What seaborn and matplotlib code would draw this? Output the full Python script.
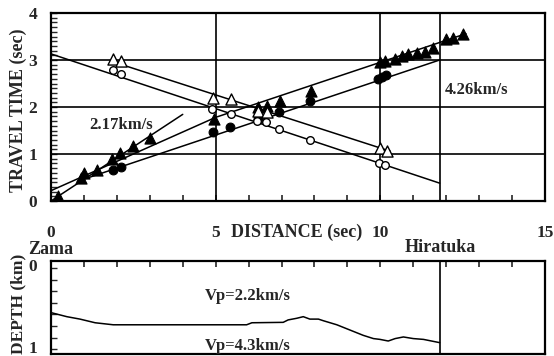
import numpy as np
import pandas as pd
import matplotlib
matplotlib.use("Agg")
import matplotlib.pyplot as plt
import matplotlib.transforms as mtransforms
from matplotlib.ticker import MultipleLocator, FixedLocator
import seaborn as sns

# ---- travel-time observations (distance km, time s) ----
fwd_tri_x = [0.2, 0.9, 1.0, 1.4, 1.85, 2.1, 2.5, 3.0, 4.95, 6.3, 6.55, 6.95, 7.9,
             10.0, 10.15, 10.45, 10.65, 10.85, 11.1, 11.35, 11.6, 12.0, 12.2, 12.5]
fwd_tri_y = [0.1, 0.48, 0.6, 0.65, 0.9, 1.02, 1.18, 1.35, 1.75, 2.0, 2.02, 2.12, 2.35,
             2.95, 2.97, 3.02, 3.08, 3.12, 3.15, 3.17, 3.25, 3.45, 3.46, 3.56]

fwd_cir_x = [1.87, 2.12, 4.93, 5.45, 6.3, 6.92, 7.87, 9.92, 10.05, 10.17]
fwd_cir_y = [0.66, 0.73, 1.47, 1.57, 1.75, 1.9, 2.13, 2.6, 2.64, 2.68]

rev_tri_x = [1.87, 2.12, 4.93, 5.47, 6.3, 6.57, 9.98, 10.2]
rev_tri_y = [3.02, 2.97, 2.2, 2.18, 1.92, 1.9, 1.12, 1.06]

rev_cir_x = [1.87, 2.12, 4.9, 5.46, 6.27, 6.53, 6.92, 7.87, 9.95, 10.15]
rev_cir_y = [2.78, 2.7, 1.96, 1.85, 1.7, 1.68, 1.53, 1.29, 0.81, 0.77]

# ---- fitted travel-time lines ----
v_direct = 2.17          # km/s
v_refract = 4.26         # km/s
direct_x = [0.0, 4.0]
refr_cir_x = [0.8, 11.8]
refr_cir_t0 = 0.23
upper_a_x = [0.0, 5.0]
upper_a_y = [0.22, 1.78]
upper_b_x = [5.0, 12.6]
upper_b_y = [1.78, 3.56]
rev_cir_line_x = [0.0, 11.8]
rev_cir_line_y = [3.13, 0.38]
rev_tri_line_x = [1.8, 10.3]
rev_tri_line_y = [2.98, 1.06]

hiratuka_x = 11.8

# ---- depth of the refractor (km) ----
prof_x = [0.0, 0.48, 0.88, 1.34, 1.89, 5.94, 6.1, 7.05, 7.2, 7.46, 7.66, 7.86, 8.12,
          8.27, 8.68, 9.08, 9.48, 9.79, 9.99, 10.24, 10.45, 10.7, 11.0, 11.31, 11.8]
prof_d = [0.55, 0.6, 0.63, 0.675, 0.7, 0.7, 0.675, 0.67, 0.64, 0.62, 0.6, 0.63, 0.63,
          0.65, 0.7, 0.765, 0.83, 0.87, 0.88, 0.9, 0.87, 0.85, 0.87, 0.88, 0.92]

sns.set_theme(style="white")
plt.rcParams['font.family'] = ['Liberation Serif', 'DejaVu Serif']
plt.rcParams['font.weight'] = 'bold'
plt.rcParams['axes.linewidth'] = 1.5

W, H = 554, 356
fig = plt.figure(figsize=(W / 100, H / 100), dpi=100)
L, R = 51 / W, 545 / W
ax = fig.add_axes([L, 1 - 201 / H, R - L, (201 - 13) / H])
ax2 = fig.add_axes([L, 1 - 354 / H, R - L, (354 - 261) / H])

fs = 12          # annotations
fs_tick = 12.5
fs_lab = 13
lw = 1.1

# grid lines
for yv in [1, 2, 3]:
    ax.axhline(yv, color='black', lw=1.2, zorder=1)
for xv in [5, 10]:
    ax.axvline(xv, color='black', lw=1.2, zorder=1)
ax.axvline(hiratuka_x, color='black', lw=1.2, zorder=1)
ax2.axvline(hiratuka_x, color='black', lw=1.2, zorder=1)

def seg(a, xs, ys):
    sns.lineplot(x=xs, y=ys, ax=a, color='black', linewidth=lw, sort=False,
                 estimator=None, zorder=2)

seg(ax, direct_x, [x / v_direct for x in direct_x])
seg(ax, refr_cir_x, [refr_cir_t0 + x / v_refract for x in refr_cir_x])
seg(ax, upper_a_x, upper_a_y)
seg(ax, upper_b_x, upper_b_y)
seg(ax, rev_cir_line_x, rev_cir_line_y)
seg(ax, rev_tri_line_x, rev_tri_line_y)

sns.scatterplot(x=fwd_tri_x, y=fwd_tri_y, ax=ax, marker='^', s=64, color='black',
                edgecolor='black', linewidth=0.8, zorder=4)
sns.scatterplot(x=fwd_cir_x, y=fwd_cir_y, ax=ax, marker='o', s=40, color='black',
                edgecolor='black', linewidth=0.8, zorder=4)
sns.scatterplot(x=rev_tri_x, y=rev_tri_y, ax=ax, marker='^', s=64, color='white',
                edgecolor='black', linewidth=1.0, zorder=4)
sns.scatterplot(x=rev_cir_x, y=rev_cir_y, ax=ax, marker='o', s=30, color='white',
                edgecolor='black', linewidth=1.0, zorder=4)

ax.set_xlim(0, 15)
ax.set_ylim(0, 4)
ax.set_xticks([0, 5, 10, 15])
ax.set_xticklabels(['0', '5', '10', '15'])
ax.set_yticks([0, 1, 2, 3, 4])
ax.xaxis.set_minor_locator(MultipleLocator(1))
ax.yaxis.set_minor_locator(MultipleLocator(0.1))
ax.tick_params(axis='x', which='both', direction='in', length=4, width=1.2,
               bottom=True, top=False, labelsize=fs_tick, pad=17)
ax.tick_params(axis='y', which='both', direction='in', length=4, width=1.0,
               left=True, right=False, labelsize=fs_tick, pad=10)
ax.set_xlabel('')
ax.set_ylabel('')
for sp in ax.spines.values():
    sp.set_color('black')
    sp.set_linewidth(1.6)

ax.text(1.15, 1.62, "2.17km/s", fontsize=fs, fontweight='bold', ha='left', va='center')
ax.text(11.95, 2.37, "4.26km/s", fontsize=fs, fontweight='bold', ha='left', va='center')

# depth section
sns.lineplot(x=prof_x, y=prof_d, ax=ax2, color='black', linewidth=lw, sort=False,
             estimator=None, zorder=2)
ax2.set_xlim(0, 15)
ax2.set_ylim(1.06, -0.086)
ax2.set_yticks([0, 1])
ax2.set_yticklabels(['0', '1'])
ax2.yaxis.set_minor_locator(FixedLocator(np.arange(0, 1.01, 1 / 7)))
ax2.xaxis.set_major_locator(MultipleLocator(1))
ax2.tick_params(axis='x', which='both', direction='in', length=4, width=1.2,
                bottom=False, top=True, labelbottom=False, labeltop=False)
ax2.tick_params(axis='y', which='both', direction='in', length=4, width=1.0,
                left=True, right=False, labelsize=fs_tick, pad=10)
ax2.set_xlabel('')
ax2.set_ylabel('')
for sp in ax2.spines.values():
    sp.set_color('black')
    sp.set_linewidth(1.6)
# nudge the depth tick labels up a little so the lower one stays inside the figure
lift = mtransforms.ScaledTranslation(0, 0.025, fig.dpi_scale_trans)
for lab in ax2.get_yticklabels():
    lab.set_transform(lab.get_transform() + lift)

ax2.text(5.98, 0.395, "Vp=2.2km/s", fontsize=fs, fontweight='bold', ha='center',
         va='baseline')
ax2.text(5.98, 1.01, "Vp=4.3km/s", fontsize=fs, fontweight='bold', ha='center',
         va='baseline', clip_on=True)

# labels placed in figure pixels
def ftext(px, py, s, size, **kw):
    fig.text(px / W, 1 - py / H, s, fontsize=size, fontweight='bold', **kw)

ftext(297, 232, "DISTANCE (sec)", fs_lab, ha='center', va='center')
ftext(51, 249, "Zama", fs_lab, ha='center', va='center')
ftext(440, 248, "Hiratuka", fs_lab, ha='center', va='center')
ftext(18, 110, "TRAVEL TIME (sec)", fs_lab, ha='center', va='center', rotation=90)
ftext(18, 304, "DEPTH (km)", 12.5, ha='center', va='center', rotation=90)

fig.savefig("out.png", dpi=100)
